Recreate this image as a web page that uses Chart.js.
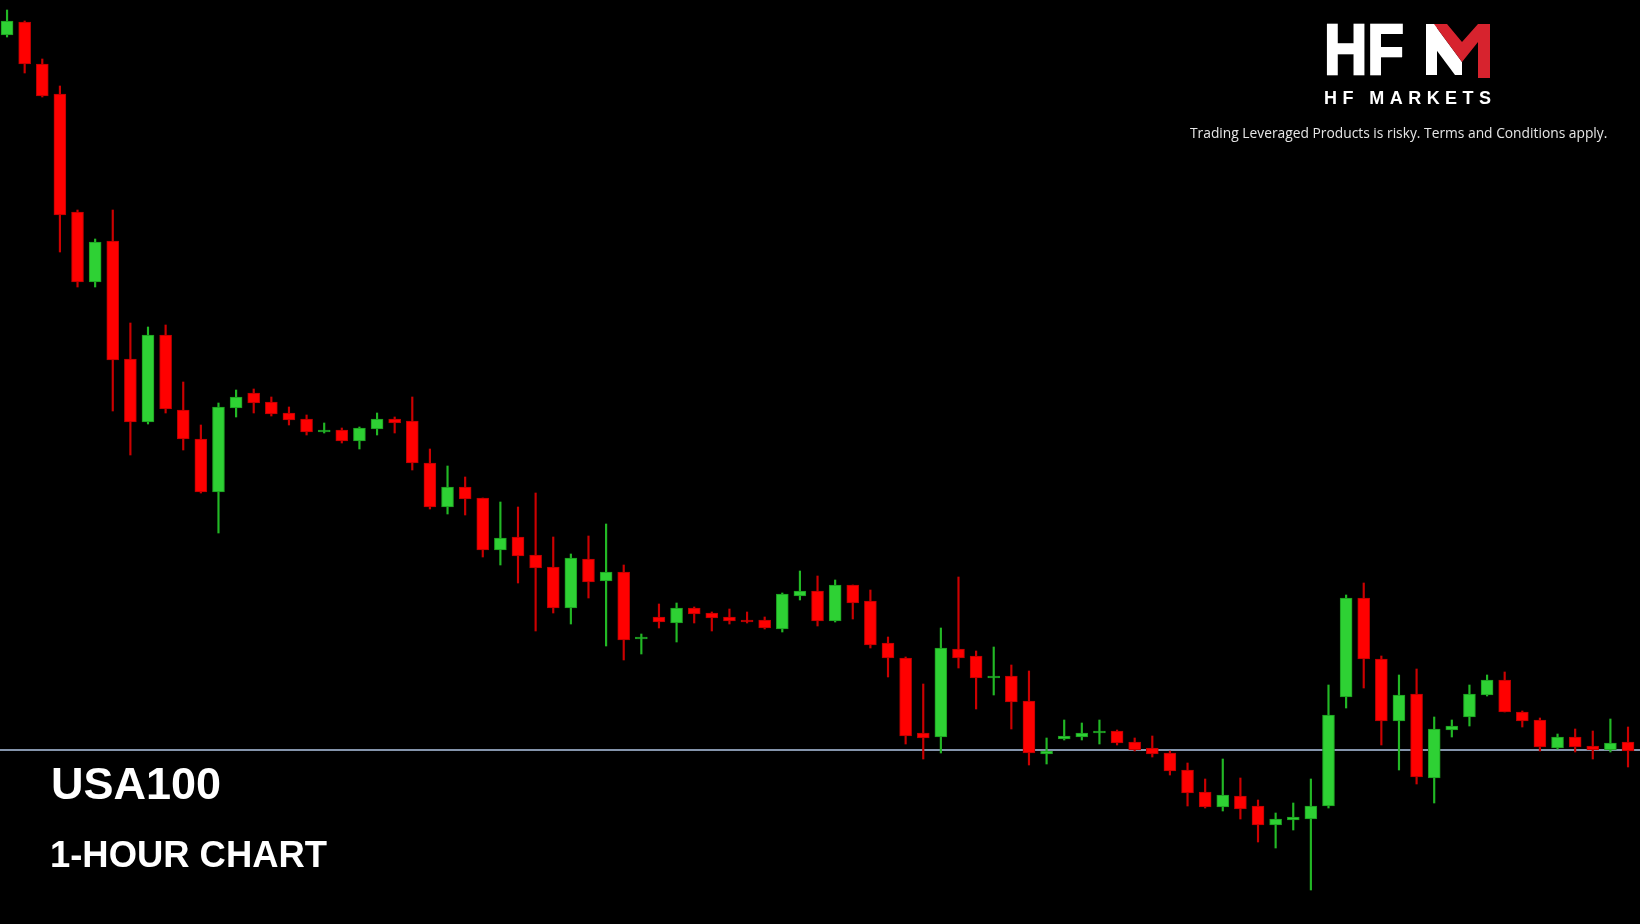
<!DOCTYPE html>
<html lang="en">
<head>
    <meta charset="UTF-8">
    <title>USA100 1-Hour Chart</title>
    <style>
        html, body {
            margin: 0;
            padding: 0;
            background: #000;
        }
        #wrap {
            position: relative;
            width: 1640px;
            height: 924px;
            overflow: hidden;
            background: #000;
        }
        #chart {
            position: absolute;
            left: 0;
            top: 0;
        }
        .label {
            position: absolute;
            color: #fff;
            font-family: "Liberation Sans", Arial, sans-serif;
            font-weight: bold;
            white-space: nowrap;
        }
        #symbol {
            left: 51px;
            top: 761px;
            font-size: 45px;
            line-height: 45px;
        }
        #period {
            left: 50px;
            top: 837px;
            font-size: 36.4px;
            line-height: 36px;
        }
        #disclaimer {
            position: absolute;
            left: 1190px;
            top: 126px;
            font-family: "Open Sans", sans-serif;
            font-size: 13.8px;
            line-height: 13px;
            color: #e6e6e6;
            white-space: nowrap;
        }
        #logo {
            position: absolute;
            left: 0;
            top: 0;
        }
    </style>
    <script src="https://cdn.jsdelivr.net/npm/chart.js"></script>
</head>
<body>
<div id="wrap">
    <canvas id="chart" width="1640" height="924"></canvas>

    <svg id="logo" width="1640" height="924" viewBox="0 0 1640 924">
        <text x="1324" y="74" font-family="Liberation Sans, Arial, sans-serif" font-weight="bold"
              font-size="70" fill="#fff" stroke="#fff" stroke-width="2.5"
              textLength="80" lengthAdjust="spacingAndGlyphs">HF</text>
        <!-- M of the logo -->
        <rect x="1426" y="24" width="11" height="51" fill="#fff"/>
        <polygon points="1426,24 1434,24 1462,62 1462,75 1455,75 1426,36" fill="#fff"/>
        <polygon points="1434,24 1447,24 1462,42 1478,24 1478,42 1462,62" fill="#d7232e"/>
        <rect x="1478" y="24" width="12" height="54" fill="#d7232e"/>
        <text x="1324" y="104" font-family="Liberation Sans, Arial, sans-serif" font-weight="bold"
              font-size="18" fill="#fff" textLength="167" lengthAdjust="spacing">HF MARKETS</text>
    </svg>

    <div id="disclaimer">Trading Leveraged Products is risky. Terms and Conditions apply.</div>
    <div class="label" id="symbol">USA100</div>
    <div class="label" id="period">1-HOUR CHART</div>
</div>

<script>
    // USA100, 1 hour candles
    const opens = [
        17965, 17978, 17936, 17906, 17788, 17718, 17759, 17641, 17578, 17665,
        17590, 17561, 17508, 17592, 17607, 17598, 17587, 17581, 17568, 17570,
        17559, 17571, 17581, 17579, 17537, 17493, 17513, 17502, 17450, 17463,
        17445, 17433, 17392, 17441, 17419, 17428, 17361, 17383, 17377, 17392,
        17387, 17383, 17380, 17380, 17371, 17404, 17409, 17379, 17415, 17399,
        17357, 17342, 17267, 17263, 17351, 17344, 17322, 17324, 17299, 17246,
        17261, 17263, 17267, 17269, 17258, 17252, 17247, 17230, 17208, 17193,
        17204, 17194, 17175, 17180, 17181, 17194, 17303, 17402, 17341, 17279,
        17306, 17222, 17270, 17283, 17305, 17320, 17288, 17280, 17252, 17263,
        17254, 17250, 17258
    ];
    const highs = [
        17990, 17979, 17941, 17914, 17790, 17761, 17790, 17677, 17673, 17675,
        17618, 17575, 17597, 17610, 17611, 17603, 17593, 17585, 17577, 17572,
        17573, 17587, 17583, 17603, 17551, 17534, 17523, 17502, 17498, 17493,
        17507, 17463, 17446, 17464, 17476, 17435, 17366, 17396, 17397, 17393,
        17388, 17391, 17388, 17383, 17407, 17429, 17424, 17420, 17415, 17410,
        17363, 17343, 17316, 17372, 17423, 17349, 17353, 17335, 17329, 17262,
        17280, 17277, 17280, 17270, 17262, 17264, 17249, 17237, 17221, 17241,
        17222, 17200, 17187, 17197, 17221, 17315, 17405, 17417, 17344, 17325,
        17331, 17283, 17280, 17315, 17325, 17328, 17289, 17282, 17266, 17271,
        17269, 17281, 17273
    ];
    const lows = [
        17963, 17927, 17903, 17748, 17713, 17713, 17589, 17545, 17576, 17587,
        17550, 17507, 17467, 17583, 17587, 17584, 17575, 17565, 17567, 17557,
        17551, 17565, 17567, 17530, 17491, 17486, 17485, 17443, 17435, 17417,
        17369, 17387, 17376, 17402, 17354, 17340, 17346, 17372, 17358, 17377,
        17369, 17376, 17377, 17371, 17368, 17400, 17374, 17378, 17381, 17352,
        17323, 17256, 17241, 17247, 17332, 17291, 17305, 17271, 17235, 17236,
        17260, 17260, 17256, 17255, 17249, 17243, 17225, 17194, 17192, 17189,
        17181, 17158, 17152, 17170, 17110, 17192, 17292, 17312, 17255, 17230,
        17216, 17197, 17263, 17274, 17304, 17288, 17273, 17249, 17251, 17248,
        17241, 17248, 17233
    ];
    const closes = [
        17979, 17936, 17904, 17785, 17718, 17758, 17640, 17578, 17665, 17591,
        17561, 17508, 17593, 17603, 17597, 17586, 17580, 17568, 17570, 17559,
        17572, 17581, 17577, 17537, 17493, 17513, 17501, 17450, 17462, 17444,
        17432, 17392, 17442, 17418, 17428, 17360, 17363, 17378, 17392, 17386,
        17382, 17379, 17378, 17372, 17406, 17409, 17379, 17415, 17397, 17355,
        17342, 17264, 17262, 17352, 17342, 17322, 17324, 17298, 17247, 17249,
        17264, 17267, 17269, 17257, 17250, 17246, 17229, 17207, 17193, 17205,
        17191, 17175, 17181, 17183, 17194, 17285, 17402, 17341, 17279, 17305,
        17223, 17271, 17274, 17306, 17320, 17288, 17279, 17253, 17263, 17253,
        17250, 17257, 17249
    ];
    // horizontal level drawn across the chart
    const levelPrice = 17250;

    const UP_BODY = '#2ed134', UP_EDGE = '#1c9a1f', UP_WICK = '#22b825';
    const DN_BODY = '#ff0000', DN_EDGE = '#b80000', DN_WICK = '#cc0000';

    const X_MIN = -0.4, X_MAX = 92.68;

    const isUp = opens.map((o, i) => closes[i] >= o);

    const bodies = opens.map((o, i) => ({ x: i, y: [o, closes[i]] }));
    const wicks = lows.map((l, i) => ({ x: i, y: [l, highs[i]] }));

    new Chart(document.getElementById('chart').getContext('2d'), {
        type: 'bar',
        data: {
            datasets: [
                {
                    label: 'body',
                    data: bodies,
                    backgroundColor: isUp.map(u => u ? UP_BODY : DN_BODY),
                    borderColor: isUp.map(u => u ? UP_EDGE : DN_EDGE),
                    borderWidth: 1,
                    borderSkipped: false,
                    barThickness: 12,
                    grouped: false,
                    order: 0
                },
                {
                    label: 'wick',
                    data: wicks,
                    backgroundColor: isUp.map(u => u ? UP_WICK : DN_WICK),
                    borderWidth: 0,
                    barThickness: 1.5,
                    grouped: false,
                    order: 1
                },
                {
                    type: 'line',
                    label: 'level',
                    data: [{ x: X_MIN, y: levelPrice }, { x: X_MAX, y: levelPrice }],
                    borderColor: '#8494ac',
                    borderWidth: 2,
                    pointRadius: 0,
                    order: 2
                }
            ]
        },
        options: {
            responsive: false,
            animation: false,
            devicePixelRatio: 1,
            layout: { padding: 0 },
            scales: {
                x: {
                    type: 'linear',
                    min: X_MIN,
                    max: X_MAX,
                    offset: false,
                    display: false
                },
                y: {
                    min: 17076,
                    max: 18000,
                    display: false
                }
            },
            plugins: {
                legend: { display: false },
                tooltip: { enabled: false }
            }
        }
    });
</script>
</body>
</html>
